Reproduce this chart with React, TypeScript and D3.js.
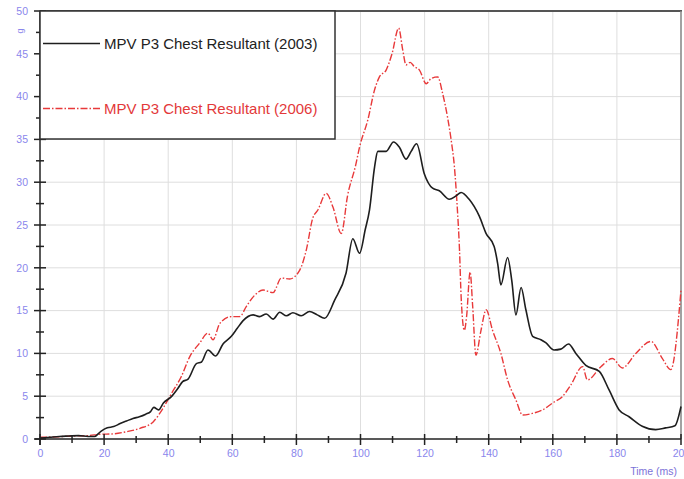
import React, { useRef, useEffect } from "react";
import * as d3 from "d3";

// MPV P3 chest resultant (2003), time in ms / acceleration in g
const t2003 = [0, 3, 6, 9, 12, 15, 17, 19, 21, 23, 25, 27, 29, 31, 33, 34.5, 35.5, 37, 38.5, 41, 43, 44.5, 46.2, 48.8, 50.4, 52.4, 54.8, 57.1, 59.7, 61.5, 63.3, 66.5, 68.5, 70.6, 72.7, 74.8, 76.9, 78.9, 81.5, 84.1, 86.5, 88.8, 91.9, 95.5, 97.6, 99.7, 101.5, 102.8, 104.4, 105.4, 108, 110.3, 112.1, 114.2, 115.8, 117.5, 119.9, 122.5, 124.6, 127.7, 129.8, 131.4, 133.9, 137.1, 139.2, 141.7, 142.8, 143.8, 145.9, 147.2, 148.5, 150.1, 151.6, 153.7, 156.3, 157.8, 160.4, 162.5, 164.9, 167.2, 170.3, 174.5, 177.6, 180.7, 183.8, 187.9, 192.1, 195.2, 198.1, 200];
const g2003 = [0.1, 0.2, 0.3, 0.35, 0.4, 0.3, 0.3, 0.9, 1.3, 1.45, 1.8, 2.1, 2.4, 2.6, 2.9, 3.2, 3.7, 3.4, 4.2, 4.95, 5.9, 6.7, 7.0, 8.8, 9.0, 10.4, 9.7, 11.1, 12.0, 12.9, 13.8, 14.5, 14.3, 14.6, 14.0, 14.8, 14.4, 14.75, 14.4, 14.9, 14.5, 14.1, 16.2, 19.4, 23.4, 21.7, 24.5, 26.75, 31.8, 33.6, 33.6, 34.7, 34.1, 32.7, 33.6, 34.5, 31.0, 29.3, 29.0, 28.0, 28.4, 28.8, 28.0, 26.0, 24.0, 22.5, 20.5, 18.0, 21.2, 18.5, 14.5, 17.7, 15.1, 12.0, 11.6, 11.25, 10.4, 10.5, 11.1, 10.0, 8.6, 7.9, 5.7, 3.4, 2.6, 1.5, 1.1, 1.3, 1.55, 3.8];

// MPV P3 chest resultant (2006)
const t2006 = [0, 5, 10, 15, 18.7, 22.8, 27, 31.2, 35.3, 38.4, 41, 44.1, 46.7, 49.8, 52.4, 54, 56.1, 59.7, 62.3, 64.4, 67, 69.6, 72.7, 75.3, 77.9, 81, 83.1, 85.1, 86.7, 89.3, 91.4, 94, 96, 98.5, 99.7, 102.3, 104.4, 105.9, 108, 109.9, 111.9, 113.2, 114.2, 115.5, 116.8, 118.4, 120.5, 122, 124.1, 125.6, 127.2, 128.3, 129.3, 130.2, 130.9, 131.4, 132.4, 133.1, 134.2, 135, 136, 137.6, 139.2, 141.2, 143.8, 145.9, 148.5, 150.6, 153.7, 156.8, 159.9, 163, 165.6, 169.3, 170.8, 175, 178.6, 181.7, 185.9, 190.6, 194.2, 196.8, 200];
const g2006 = [0.2, 0.25, 0.35, 0.4, 0.55, 0.6, 0.85, 1.25, 2.0, 3.6, 5.3, 7.3, 9.6, 11.2, 12.35, 11.6, 13.5, 14.3, 14.3, 15.5, 16.8, 17.4, 17.1, 18.8, 18.7, 19.7, 22.1, 25.8, 26.75, 28.7, 27.1, 24.0, 28.5, 32.0, 34.1, 37.3, 40.8, 42.3, 43.1, 45.1, 48.0, 45.4, 43.7, 44.0, 43.5, 43.1, 41.5, 42.1, 42.3, 40.4, 37.5, 34.9, 31.8, 27, 22, 16.6, 12.7, 14.3, 19.5, 15.5, 9.8, 12.7, 15.1, 12.7, 10.0, 6.9, 4.55, 2.8, 3.0, 3.4, 4.2, 4.95, 6.3, 8.45, 6.9, 8.45, 9.4, 8.3, 10.0, 11.4, 9.4, 8.1, 17.4];

const seriesNames = ["MPV P3 Chest Resultant (2003)", "MPV P3 Chest Resultant (2006)"];
const xTicks = [0, 20, 40, 60, 80, 100, 120, 140, 160, 180, 200];
const yTicks = [0, 5, 10, 15, 20, 25, 30, 35, 40, 45, 50];

const W = 684, H = 479;
const FONT = "'Liberation Sans', Arial, sans-serif";
const LABEL = "#8a86ec";

function App() {
  const svgRef = useRef(null);

  useEffect(() => {
    const svg = d3.select(svgRef.current);
    svg.selectAll("*").remove();

    const left = 40, right = 681, top = 11, bottom = 439;

    const x = d3.scaleLinear().domain([0, 200]).range([left, right]);
    const y = d3.scaleLinear().domain([0, 50]).range([bottom, top]);

    // grid
    svg.append("g")
      .selectAll("line")
      .data(xTicks.slice(1))
      .join("line")
      .attr("x1", d => x(d)).attr("x2", d => x(d))
      .attr("y1", top).attr("y2", bottom)
      .attr("stroke", "#dedede");
    svg.append("g")
      .selectAll("line")
      .data(yTicks.slice(1))
      .join("line")
      .attr("x1", left).attr("x2", right)
      .attr("y1", d => y(d)).attr("y2", d => y(d))
      .attr("stroke", "#dedede");

    // frame (top + right)
    svg.append("line").attr("x1", left).attr("x2", right + 1).attr("y1", top).attr("y2", top)
      .attr("stroke", "#555").attr("stroke-width", 2);
    svg.append("line").attr("x1", right).attr("x2", right).attr("y1", top).attr("y2", bottom)
      .attr("stroke", "#888").attr("stroke-width", 1.5);

    // curves
    const d2003 = t2003.map((t, i) => [t, g2003[i]]);
    const d2006 = t2006.map((t, i) => [t, g2006[i]]);
    const line = d3.line().x(d => x(d[0])).y(d => y(d[1])).curve(d3.curveMonotoneX);

    svg.append("path").datum(d2006)
      .attr("d", line).attr("fill", "none")
      .attr("stroke", "#e8393a").attr("stroke-width", 1.4)
      .attr("stroke-dasharray", "7 2 1.5 2");
    svg.append("path").datum(d2003)
      .attr("d", line).attr("fill", "none")
      .attr("stroke", "#1e1e1e").attr("stroke-width", 1.6);

    // x axis
    const xAxis = d3.axisBottom(x).tickValues(xTicks).tickSize(0).tickPadding(11);
    const gx = svg.append("g").attr("transform", `translate(0,${bottom})`).call(xAxis);
    gx.select(".domain").remove();
    gx.selectAll("text").attr("fill", LABEL).style("font", `10.5px ${FONT}`);
    svg.append("line").attr("x1", left - 5).attr("x2", right).attr("y1", bottom).attr("y2", bottom)
      .attr("stroke", "#222").attr("stroke-width", 1.5);
    svg.append("g").selectAll("line")
      .data(d3.range(0, 201, 10))
      .join("line")
      .attr("x1", d => x(d)).attr("x2", d => x(d))
      .attr("y1", d => bottom - (d % 20 === 0 ? 5 : 3))
      .attr("y2", d => bottom + (d % 20 === 0 ? 6 : 4))
      .attr("stroke", "#222").attr("stroke-width", 1.5);

    // y axis
    const yAxis = d3.axisLeft(y).tickValues(yTicks).tickSize(0).tickPadding(12);
    const gy = svg.append("g").attr("transform", `translate(${left},0)`).call(yAxis);
    gy.select(".domain").remove();
    gy.selectAll("text").attr("fill", LABEL).style("font", `10.5px ${FONT}`);
    svg.append("line").attr("x1", left).attr("x2", left).attr("y1", top).attr("y2", bottom + 6)
      .attr("stroke", "#222").attr("stroke-width", 1.5);
    svg.append("g").selectAll("line")
      .data(d3.range(0, 50.1, 2.5))
      .join("line")
      .attr("y1", d => y(d)).attr("y2", d => y(d))
      .attr("x1", d => left - (d % 5 === 0 ? 6 : 4))
      .attr("x2", d => left + (d % 5 === 0 ? 6 : 4))
      .attr("stroke", "#222").attr("stroke-width", 1.5);

    // axis titles
    svg.append("text").attr("transform", `translate(23,31) rotate(-90)`)
      .attr("text-anchor", "middle").attr("fill", LABEL)
      .style("font", `9px ${FONT}`).text("g");
    svg.append("text").attr("x", 677).attr("y", 475).attr("text-anchor", "end")
      .attr("fill", "#7c72d8").style("font", `10.5px ${FONT}`).text("Time (ms)");

    // legend
    const lg = svg.append("g");
    lg.append("rect").attr("x", left).attr("y", top).attr("width", 295).attr("height", 128)
      .attr("fill", "#fff").attr("stroke", "#333").attr("stroke-width", 1.5);
    const items = [
      { name: seriesNames[0], color: "#1e1e1e", text: "#222", dash: null, yy: 43.5 },
      { name: seriesNames[1], color: "#e8393a", text: "#e3393a", dash: "7 2 1.5 2", yy: 108.5 },
    ];
    items.forEach(it => {
      lg.append("line").attr("x1", left + 3).attr("x2", 100).attr("y1", it.yy).attr("y2", it.yy)
        .attr("stroke", it.color).attr("stroke-width", 1.5)
        .attr("stroke-dasharray", it.dash);
      lg.append("text").attr("x", 104).attr("y", it.yy + 5.3)
        .attr("fill", it.text).style("font", `15px ${FONT}`).text(it.name);
    });
  }, []);

  return (
    <svg ref={svgRef} width={W} height={H}
      style={{ position: "absolute", left: 0, top: 0, background: "#fff" }} />
  );
}

export default App;
